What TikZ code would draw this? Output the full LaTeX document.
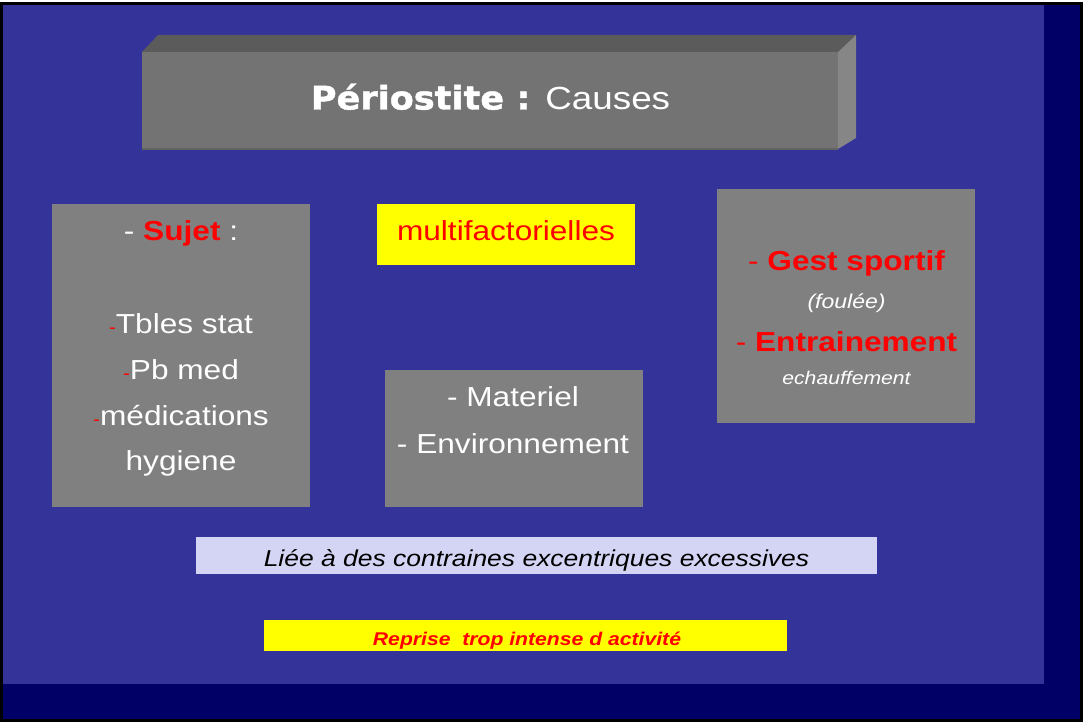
\documentclass[tikz,border=0pt]{standalone}
\usepackage{fontspec}
\setmainfont[FakeStretch=1.15]{Liberation Sans}
\newfontfamily\heavyfont[FakeStretch=1.08,FakeBold=1.4]{DejaVu Sans}
\definecolor{bgblue}{HTML}{333399}
\definecolor{navy}{HTML}{000066}
\definecolor{boxgray}{HTML}{808080}
\definecolor{frontgray}{HTML}{737373}
\definecolor{topgray}{HTML}{5B5B5B}
\definecolor{sidegray}{HTML}{868686}
\definecolor{edgegray}{HTML}{626262}
\definecolor{lav}{HTML}{D4D4F4}
\definecolor{hlyellow}{HTML}{FFFF00}
\definecolor{hlred}{HTML}{FF0000}
\newcommand{\fsz}[1]{\fontsize{#1}{#1}\selectfont}
\newcommand{\reddash}{{\color{hlred}\fsz{18}-}}
\begin{document}
\begin{tikzpicture}[x=1pt,y=-1pt,
  panel/.style={inner sep=0pt, outer sep=0pt, draw=none, rectangle},
  txt/.style={inner sep=0pt, anchor=base, text=white, font=\fsz{27.5}},
  redtxt/.style={txt, text=hlred}
]
\useasboundingbox (0,0) rectangle (1083,722);
\fill[white] (0,0) rectangle (1083,722);
\draw[line width=3pt, fill=navy] (1.5,3.5) rectangle (1081.5,720.5);
\fill[bgblue] (3,5) rectangle (1043.5,683.5);

% title block
\node[panel, fill=frontgray, minimum width=696pt, minimum height=97pt] (title) at (490,100.5) {};
\fill[topgray] (title.north west) -- ++(16,-17) -- ++(698,0) -- (title.north east) -- cycle;
\fill[sidegray] (title.north east) -- ++(18,-17) -- ++(0,103) -- (title.south east) -- cycle;
\draw[edgegray, line width=2pt] (title.south west) -- (title.south east);
\node[txt] (titletext) at (490.5,109.5) {{\heavyfont\bfseries\fsz{32.5}Périostite :}\hspace{15pt}{\fsz{32}Causes}};

% left box
\node[panel, fill=boxgray, minimum width=258pt, minimum height=303pt] (sujet) at (181,355.5) {};
\node[txt] (sujett) at (181,240) {- \textcolor{hlred}{\bfseries Sujet} :};
\node[txt] (l1) at (181,333.3) {\reddash Tbles stat};
\node[txt] (l2) at (181,379.3) {\reddash Pb med};
\node[txt] (l3) at (181,425) {\reddash médications};
\node[txt] (l4) at (181,470.5) {hygiene};

% multifactorielles
\node[panel, fill=hlyellow, minimum width=258pt, minimum height=61pt] (multi) at (506,234.5) {};
\node[redtxt] (multit) at (506,240) {multifactorielles};

% materiel box
\node[panel, fill=boxgray, minimum width=258pt, minimum height=137pt] (mat) at (514,438.5) {};
\node[txt] (m1) at (513,406.7) {- Materiel};
\node[txt] (m2) at (513,453.3) {- Environnement};

% right box
\node[panel, fill=boxgray, minimum width=258pt, minimum height=234pt] (gest) at (846,306) {};
\node[redtxt] (g1) at (846.5,270.7) {- {\bfseries Gest sportif}};
\node[txt, font=\fsz{20}\itshape] (g2) at (846.5,308) {(foulée)};
\node[redtxt] (g3) at (846.5,351.7) {- {\bfseries Entrainement}};
\node[txt, font=\fsz{18.4}\itshape] (g4) at (846.5,384) {echauffement};

% lavender band
\node[panel, fill=lav, minimum width=681pt, minimum height=37pt] (liee) at (536.5,555.8) {};
\node[txt, text=black, font=\fsz{23}\itshape] (lieet) at (536.5,566.7) {Liée à des contraines excentriques excessives};

% bottom yellow band
\node[panel, fill=hlyellow, minimum width=523pt, minimum height=31.3pt] (rep) at (525.5,635.3) {};
\node[redtxt, font=\fsz{18.4}\bfseries\itshape] (rept) at (527,645.7) {Reprise~ trop intense d activité};
\end{tikzpicture}
\end{document}
